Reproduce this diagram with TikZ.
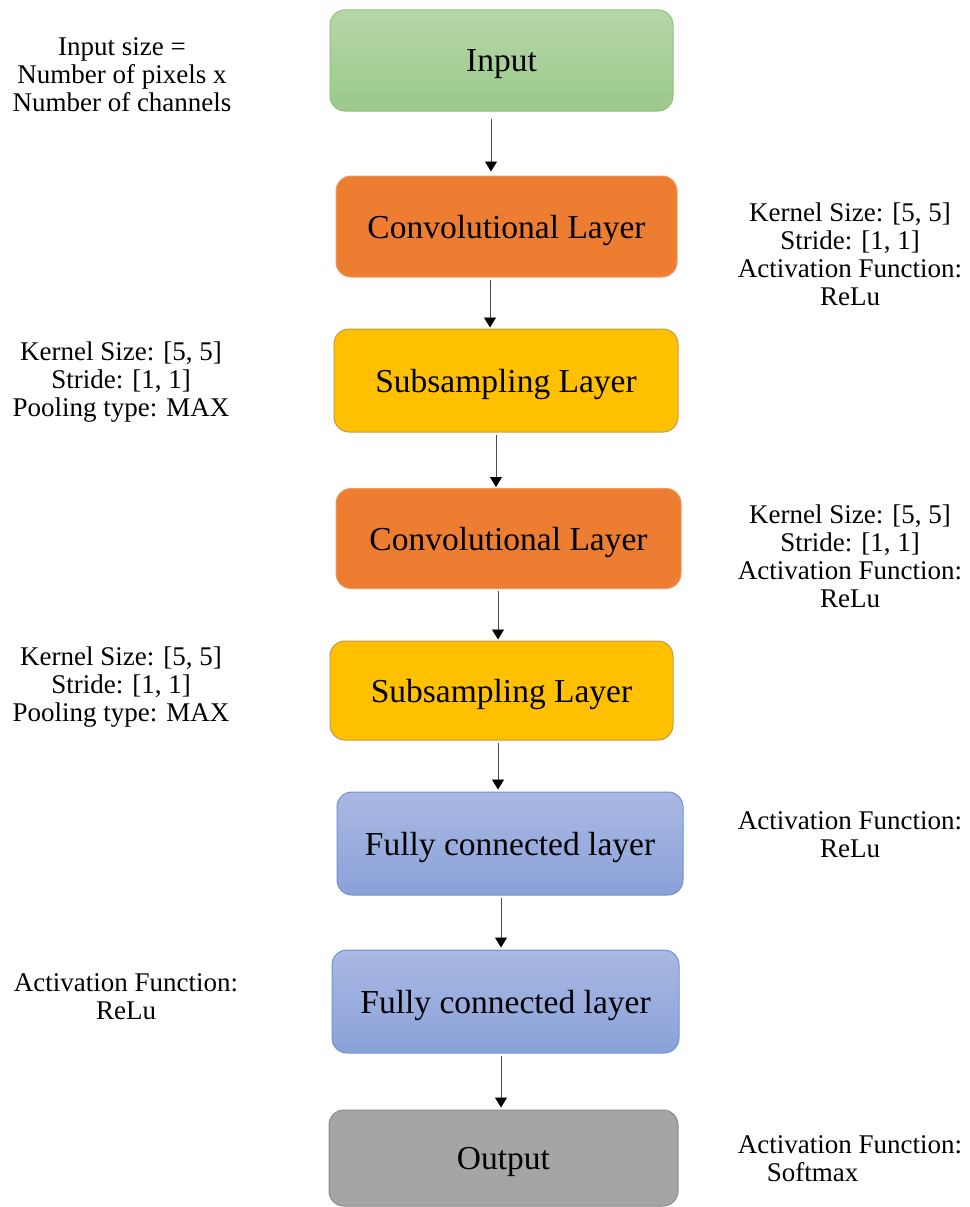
\documentclass[tikz,border=0pt]{standalone}
\usepackage{fontspec}
\setmainfont{Liberation Serif}
\usetikzlibrary{arrows.meta}

\definecolor{greenTop}{HTML}{B5D7A8}
\definecolor{greenBot}{HTML}{9CC98A}
\definecolor{greenLine}{HTML}{8FC07C}
\definecolor{convFill}{HTML}{ED7D31}
\definecolor{convLine}{HTML}{F09A62}
\definecolor{subFill}{HTML}{FFC000}
\definecolor{subLine}{HTML}{C49C46}
\definecolor{blueTop}{HTML}{AAB9E3}
\definecolor{blueBot}{HTML}{8AA1D9}
\definecolor{blueLine}{HTML}{7191D4}
\definecolor{outFill}{HTML}{A5A5A5}
\definecolor{outLine}{HTML}{8A8A8A}
\definecolor{arrowGray}{HTML}{4A4A4A}

\begin{document}
\begin{tikzpicture}[x=1pt,y=-1pt,
  layerbox/.style={rectangle, rounded corners=15pt, inner sep=0pt, line width=1pt,
    text depth=0pt, font=\fontsize{33.5}{36}\selectfont, text=black},
  inbox/.style={layerbox, draw=greenLine, top color=greenTop, bottom color=greenBot},
  convbox/.style={layerbox, draw=convLine, fill=convFill},
  subbox/.style={layerbox, draw=subLine, fill=subFill},
  fcbox/.style={layerbox, draw=blueLine, top color=blueTop, bottom color=blueBot},
  outbox/.style={layerbox, draw=outLine, fill=outFill},
  note/.style={align=center, inner sep=0pt, font=\fontsize{27}{28}\selectfont, text=black},
  arr/.style={draw=arrowGray, line width=0.9pt,
    -{Triangle[width=12pt,length=10pt,color=black]}}]

\useasboundingbox (0,0) rectangle (969,1207);

% layer boxes
\node[inbox,   minimum width=343pt, minimum height=101pt] (in)  at (501.5,60.5)  {Input};
\node[convbox, minimum width=341pt, minimum height=101pt] (c1)  at (506.5,226.5) {Convolutional Layer};
\node[subbox,  minimum width=344pt, minimum height=103pt] (s1)  at (506,380.5)   {Subsampling Layer};
\node[convbox, minimum width=345pt, minimum height=100pt] (c2)  at (508.5,538.5) {Convolutional Layer};
\node[subbox,  minimum width=343pt, minimum height=99pt]  (s2)  at (501.5,690.5) {Subsampling Layer};
\node[fcbox,   minimum width=346pt, minimum height=103pt] (f1)  at (510,843.5)   {Fully connected layer};
\node[fcbox,   minimum width=347pt, minimum height=103pt] (f2)  at (505.5,1001.5) {Fully connected layer};
\node[outbox,  minimum width=349pt, minimum height=96pt]  (out) at (503.5,1158)  {Output};

% arrow columns
\coordinate (a1) at (491,0);
\coordinate (a2) at (490,0);
\coordinate (a3) at (496,0);
\coordinate (a4) at (498,0);
\coordinate (a5) at (498,0);
\coordinate (a6) at (501,0);
\coordinate (a7) at (501,0);

\draw[arr, shorten <=7pt, shorten >=4pt] (in.south -| a1) -- (c1.north -| a1);
\draw[arr, shorten <=2pt, shorten >=1pt] (c1.south -| a2) -- (s1.north -| a2);
\draw[arr, shorten <=2pt, shorten >=1pt] (s1.south -| a3) -- (c2.north -| a3);
\draw[arr, shorten <=2pt, shorten >=1pt] (c2.south -| a4) -- (s2.north -| a4);
\draw[arr, shorten <=2pt, shorten >=2pt] (s2.south -| a5) -- (f1.north -| a5);
\draw[arr, shorten <=2pt, shorten >=2pt] (f1.south -| a6) -- (f2.north -| a6);
\draw[arr, shorten <=2pt, shorten >=2pt] (f2.south -| a7) -- (out.north -| a7);

% layer parameters
\node[note] (nin) at (122,75)  {Input size =\\Number of pixels x\\Number of channels};
\node[note] (nc1) at (850,254) {Kernel Size: [5, 5]\\Stride: [1, 1]\\Activation Function:\\ReLu};
\node[note] (ns1) at (121,382) {Kernel Size: [5, 5]\\Stride: [1, 1]\\Pooling type: MAX};
\node[note] (nc2) at (850,556) {Kernel Size: [5, 5]\\Stride: [1, 1]\\Activation Function:\\ReLu};
\node[note] (ns2) at (121,687) {Kernel Size: [5, 5]\\Stride: [1, 1]\\Pooling type: MAX};
\node[note] (nf1) at (850,835) {Activation Function:\\ReLu};
\node[note] (nf2) at (126,997) {Activation Function:\\ReLu};
\node[note, align=left] (nout) at (850,1159) {Activation Function:\\\hspace*{29pt}Softmax};

\end{tikzpicture}
\end{document}
